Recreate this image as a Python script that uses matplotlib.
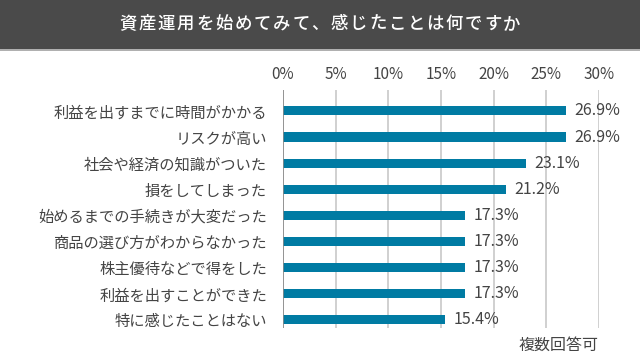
import matplotlib
matplotlib.use("Agg")
import matplotlib.pyplot as plt
from matplotlib.patches import Rectangle

plt.rcParams['font.family'] = ['Noto Sans CJK JP', 'DejaVu Sans']

title = "資産運用を始めてみて、感じたことは何ですか"
labels = ["利益を出すまでに時間がかかる", "リスクが高い", "社会や経済の知識がついた",
          "損をしてしまった", "始めるまでの手続きが大変だった", "商品の選び方がわからなかった",
          "株主優待などで得をした", "利益を出すことができた", "特に感じたことはない"]
values = [26.9, 26.9, 23.1, 21.2, 17.3, 17.3, 17.3, 17.3, 15.4]
ticks = [0, 5, 10, 15, 20, 25, 30]
note = "複数回答可"

W, H = 640, 358
fig = plt.figure(figsize=(W / 100, H / 100), dpi=100)
txt = "#444444"

# title bar
fig.patches.append(Rectangle((0, 1 - 50 / H), 1, 50 / H, transform=fig.transFigure,
                             facecolor="#4a4a4a", edgecolor="none"))
fig.patches.append(Rectangle((0, 1 - 51 / H), 1, 1.5 / H, transform=fig.transFigure,
                             facecolor="#b0b0b0", edgecolor="none"))
# title with letter spacing: one character at a time
step = 19.2
x0 = W / 2 - step * (len(title) - 1) / 2
for i, ch in enumerate(title):
    fig.text((x0 + i * step) / W, 1 - 24 / H, ch, color="white",
             ha="center", va="center", fontsize=12.5, fontweight="medium")

ax = fig.add_axes([283 / W, 1 - 328 / H, (599 - 283) / W, (328 - 90) / H])
y = list(range(len(labels)))
ax.barh(y, values, height=0.35, color="#007ba3", zorder=3)
ax.set_xlim(0, 30)
ax.set_ylim(8.31, -0.8)
ax.set_xticks(ticks)
ax.set_xticklabels([f"{t}%" for t in ticks])
ax.xaxis.tick_top()
ax.tick_params(axis="x", length=0, pad=5, labelsize=11, labelcolor=txt)
ax.set_yticks(y)
ax.set_yticklabels(labels)
ax.tick_params(axis="y", length=0, pad=11.5, labelsize=11, labelcolor=txt)
ax.grid(axis="x", color="#c8c8c8", linewidth=1.2, zorder=0)
for s in ax.spines.values():
    s.set_visible(False)
ax.axvline(0, color="#8a8a8a", linewidth=1.2, zorder=4)
ax.patch.set_alpha(0)

for yi, v in zip(y, values):
    ax.text(v + 0.8, yi, f"{v:.1f}%", va="center", ha="left", fontsize=11.5,
            color=txt, zorder=5)

fig.text(598 / W, 1 - 345 / H, note, ha="right", va="center", fontsize=11.5,
         color=txt)

fig.savefig("out.png", dpi=100)
